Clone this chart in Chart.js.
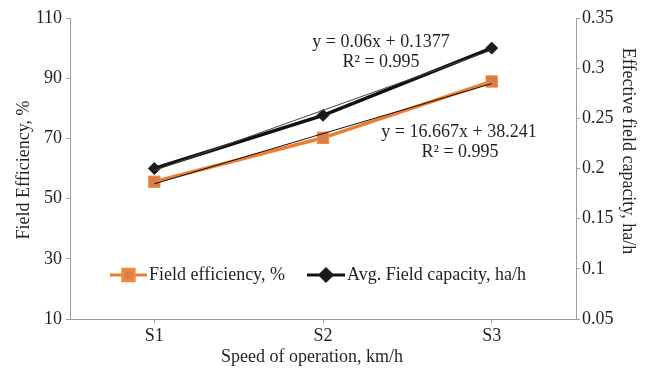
<!DOCTYPE html>
<html>
<head>
<meta charset="utf-8">
<script src="https://cdn.jsdelivr.net/npm/chart.js@4.4.1/dist/chart.umd.min.js"></script>
<style>
  html, body { margin: 0; padding: 0; background: #fff; }
</style>
</head>
<body>
<canvas id="speedChart" width="645" height="369"></canvas>
<script>
// valores
const speeds = ['S1', 'S2', 'S3'];
const fieldEfficiency = [55.6, 70.2, 88.9];
const fieldCapacity = [0.200, 0.253, 0.320];
const effTrend = [54.9, 71.6, 88.2];
const capTrend = [0.198, 0.258, 0.318];
const effTicks = [10, 30, 50, 70, 90, 110];
const capTicks = [0.05, 0.1, 0.15, 0.2, 0.25, 0.3, 0.35];

const effLabel = 'Field efficiency, %';
const capLabel = 'Avg. Field capacity, ha/h';
const effEquation = ['y = 16.667x + 38.241', 'R² = 0.995'];
const capEquation = ['y = 0.06x + 0.1377', 'R² = 0.995'];

const FONT = '"Liberation Serif", "Times New Roman", serif';
const FSIZE = 18;
const TEXT = '#231f20';
const AXIS = '#a39c96';
const ORANGE = '#ed7d31';

const extras = {
  id: 'extras',
  afterDraw(chart) {
    const ctx = chart.ctx;
    const ds = chart.data.datasets;
    ctx.save();
    ctx.fillStyle = TEXT;
    ctx.font = FSIZE + 'px ' + FONT;
    ctx.textBaseline = 'middle';

    // legenda dentro da área do gráfico
    const items = [
      { d: ds[3], x0: 110, x1: 147 },
      { d: ds[2], x0: 307, x1: 345 }
    ];
    const ly = 275;
    items.forEach(it => {
      ctx.strokeStyle = it.d.borderColor;
      ctx.lineWidth = 3;
      ctx.beginPath();
      ctx.moveTo(it.x0, ly);
      ctx.lineTo(it.x1, ly);
      ctx.stroke();
      ctx.fillStyle = it.d.pointBackgroundColor;
      ctx.strokeStyle = it.d.pointBorderColor;
      Chart.helpers.drawPoint(ctx, {
        pointStyle: it.d.pointStyle,
        radius: it.d.pointRadius,
        borderWidth: it.d.pointBorderWidth,
        rotation: 0
      }, (it.x0 + it.x1) / 2, ly);
      ctx.fillStyle = TEXT;
      ctx.textAlign = 'left';
      ctx.fillText(it.d.label, it.x1 + 2, ly);
    });

    // equações das tendências
    ctx.textAlign = 'center';
    ctx.fillText(capEquation[0], 381, 42);
    ctx.fillText(capEquation[1], 381, 62);
    ctx.fillText(effEquation[0], 459, 132);
    ctx.fillText(effEquation[1], 460, 152);

    // títulos dos eixos
    ctx.fillText('Speed of operation, km/h', 312, 357);
    ctx.save();
    ctx.translate(24, 170);
    ctx.rotate(-Math.PI / 2);
    ctx.fillText('Field Efficiency, %', 0, 0);
    ctx.restore();
    ctx.save();
    ctx.translate(628, 151);
    ctx.rotate(Math.PI / 2);
    ctx.fillText('Effective field capacity, ha/h', 0, 0);
    ctx.restore();

    ctx.restore();
  }
};

const ctx = document.getElementById('speedChart').getContext('2d');
const chart = new Chart(ctx, {
  type: 'line',
  data: {
    labels: speeds,
    datasets: [
      {
        label: 'Trend efficiency',
        data: effTrend,
        yAxisID: 'yL',
        borderColor: '#111',
        borderWidth: 1,
        pointRadius: 0,
        tension: 0
      },
      {
        label: 'Trend capacity',
        data: capTrend,
        yAxisID: 'yR',
        borderColor: '#444',
        borderWidth: 1,
        pointRadius: 0,
        tension: 0
      },
      {
        label: capLabel,
        data: fieldCapacity,
        yAxisID: 'yR',
        borderColor: '#111',
        borderWidth: 3.5,
        pointStyle: 'rectRot',
        pointRadius: 6,
        pointBackgroundColor: '#1a1a1a',
        pointBorderColor: '#1a1a1a',
        pointBorderWidth: 1,
        tension: 0
      },
      {
        label: effLabel,
        data: fieldEfficiency,
        yAxisID: 'yL',
        borderColor: ORANGE,
        borderWidth: 3.5,
        pointStyle: 'rect',
        pointRadius: 8,
        pointBackgroundColor: '#dc7c46',
        pointBorderColor: '#f08a3c',
        pointBorderWidth: 1,
        tension: 0
      }
    ]
  },
  options: {
    responsive: false,
    animation: false,
    layout: { padding: { top: 18, left: 0, right: 0, bottom: 0 } },
    plugins: {
      legend: { display: false },
      tooltip: { enabled: false }
    },
    scales: {
      x: {
        offset: true,
        afterFit: s => { s.height = 50; },
        grid: { offset: false, drawOnChartArea: false, tickLength: 4, color: AXIS },
        border: { color: AXIS, width: 1 },
        ticks: { color: TEXT, padding: 2, font: { family: FONT, size: FSIZE } }
      },
      yL: {
        position: 'left',
        min: 10,
        max: 110,
        afterFit: s => { s.width = 70; },
        afterBuildTicks: s => { s.ticks = effTicks.map(v => ({ value: v })); },
        grid: { drawOnChartArea: false, tickLength: 4, color: AXIS },
        border: { color: AXIS, width: 1 },
        ticks: { color: TEXT, padding: 4, font: { family: FONT, size: FSIZE } }
      },
      yR: {
        position: 'right',
        min: 0.05,
        max: 0.35,
        afterFit: s => { s.width = 69; },
        afterBuildTicks: s => { s.ticks = capTicks.map(v => ({ value: v })); },
        grid: { drawOnChartArea: false, tickLength: 4, color: AXIS },
        border: { color: AXIS, width: 1 },
        ticks: {
          color: TEXT, padding: 2, font: { family: FONT, size: FSIZE },
          callback: v => String(+v.toFixed(2))
        }
      }
    }
  },
  plugins: [extras]
});
</script>
</body>
</html>
